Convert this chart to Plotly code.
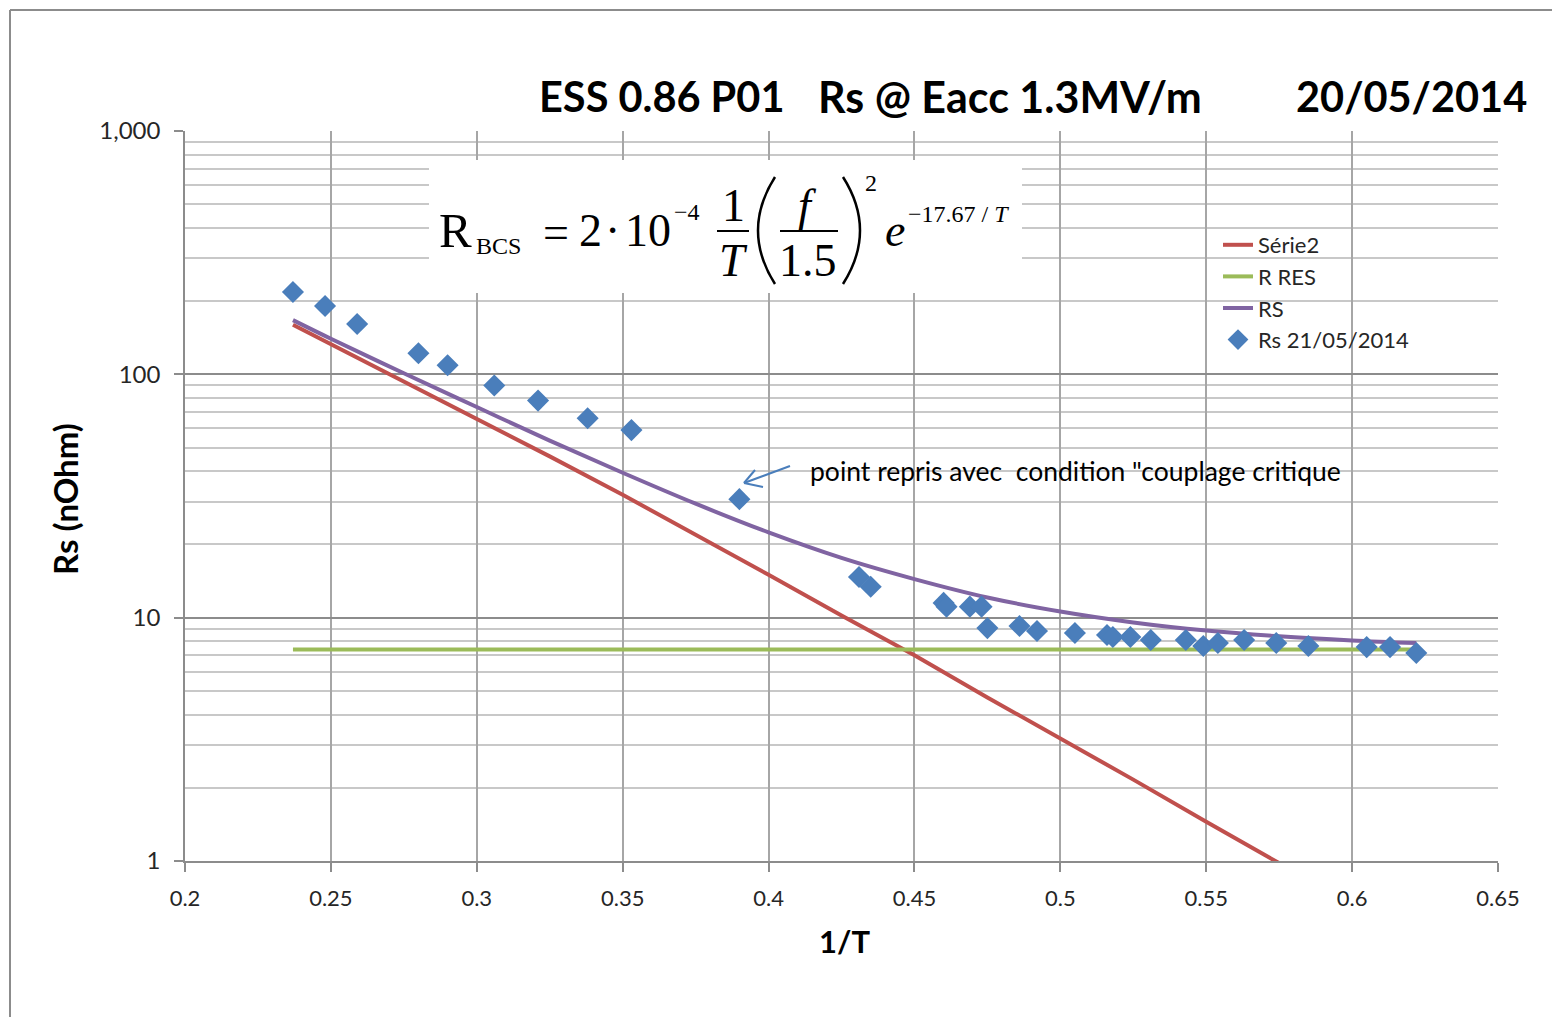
import plotly.graph_objects as go

# ---------------- data ----------------
meas_x = [0.237, 0.248, 0.259, 0.280, 0.290, 0.306, 0.321, 0.338, 0.353,
          0.390, 0.431, 0.435,
          0.460, 0.461, 0.469, 0.473, 0.475,
          0.486, 0.492, 0.505, 0.516, 0.518, 0.524, 0.531,
          0.543, 0.549, 0.554, 0.563, 0.574, 0.585,
          0.605, 0.613, 0.622]
meas_y = [218, 191, 161, 122, 109, 90, 78, 66, 59,
          30.7, 14.7, 13.4,
          11.5, 11.1, 11.1, 11.1, 9.06,
          9.24, 8.81, 8.65, 8.49, 8.33, 8.33, 8.1,
          8.1, 7.65, 7.87, 8.1, 7.87, 7.65,
          7.57, 7.57, 7.16]

serie2_x = [0.237, 0.25, 0.275, 0.3, 0.325, 0.35, 0.375, 0.4, 0.425, 0.45,
            0.475, 0.5, 0.525, 0.55, 0.575]
serie2_y = [160, 133, 94, 66, 46, 32, 22, 15, 10.2, 7.0,
            4.7, 3.2, 2.16, 1.45, 0.98]

rres_x = [0.237, 0.622]
rres_y = [7.4, 7.4]

rs_x = [0.237, 0.25, 0.275, 0.3, 0.325, 0.35, 0.375, 0.4, 0.425, 0.45,
        0.475, 0.5, 0.525, 0.55, 0.575, 0.6, 0.622]
rs_y = [167, 140, 101, 73.4, 53.4, 39.4, 29.4, 22.4, 17.6, 14.4,
        12.1, 10.6, 9.56, 8.85, 8.38, 8.06, 7.86]

x_ticks = [0.2, 0.25, 0.3, 0.35, 0.4, 0.45, 0.5, 0.55, 0.6, 0.65]
x_tick_text = ["0.2", "0.25", "0.3", "0.35", "0.4", "0.45", "0.5", "0.55", "0.6", "0.65"]
y_ticks = [1, 10, 100, 1000]
y_tick_text = ["1", "10", "100", "1,000"]
y_minor = [m * 10 ** k for k in range(3) for m in range(2, 10)]

# ---------------- layout helpers (reference pixel -> paper) ----------------
OFF = 8  # page body margin of the browser
W, H = 1560 - OFF, 1017 - OFF
L, R, T, B = 185, 1498, 131, 861   # plot area in reference pixels


def px(x):
    return (x - L) / (R - L)


def py(y):
    return (B - y) / (B - T)


fig = go.Figure()

fig.add_trace(go.Scatter(x=serie2_x, y=serie2_y, mode="lines", name="Série2",
                         line=dict(color="#c0504d", width=4)))
fig.add_trace(go.Scatter(x=rres_x, y=rres_y, mode="lines", name="R RES",
                         line=dict(color="#9bbb59", width=4)))
fig.add_trace(go.Scatter(x=rs_x, y=rs_y, mode="lines", name="RS",
                         line=dict(color="#8064a2", width=4, shape="spline")))
fig.add_trace(go.Scatter(x=meas_x, y=meas_y, mode="markers", name="Rs 21/05/2014",
                         marker=dict(symbol="diamond", size=17, color="#4a7ebb",
                                     line=dict(width=0))))

shapes = []
# outer chart frame (top & left visible)
shapes.append(dict(type="line", xref="paper", yref="paper",
                   x0=px(10), y0=py(10), x1=px(1575), y1=py(10),
                   line=dict(color="#8c8c8c", width=2)))
shapes.append(dict(type="line", xref="paper", yref="paper",
                   x0=px(10), y0=py(10), x1=px(10), y1=py(1030),
                   line=dict(color="#8c8c8c", width=2)))
# white formula box
shapes.append(dict(type="rect", xref="paper", yref="paper", layer="above",
                   x0=px(429), y0=py(293), x1=px(1022), y1=py(160),
                   fillcolor="white", line=dict(width=0)))
# fraction bars
shapes.append(dict(type="line", xref="paper", yref="paper", layer="above",
                   x0=px(717), y0=py(231), x1=px(749), y1=py(231),
                   line=dict(color="black", width=2)))
shapes.append(dict(type="line", xref="paper", yref="paper", layer="above",
                   x0=px(780), y0=py(231), x1=px(838), y1=py(231),
                   line=dict(color="black", width=2)))


def paren(xe, xm, y0, y1):
    ym = (y0 + y1) / 2
    return "M {:.5f},{:.5f} Q {:.5f},{:.5f} {:.5f},{:.5f}".format(
        px(xe), py(y0), px(xm), py(ym), px(xe), py(y1))


shapes.append(dict(type="path", xref="paper", yref="paper", layer="above",
                   path=paren(775, 741, 177, 284), line=dict(color="black", width=2.5)))
shapes.append(dict(type="path", xref="paper", yref="paper", layer="above",
                   path=paren(843, 877, 177, 284), line=dict(color="black", width=2.5)))

# open arrow pointing at the re-measured point
arrow_col = "#4a7ebb"
for (x0, y0, x1, y1) in [(790, 466, 744, 483), (744, 483, 763, 487), (744, 483, 755, 470)]:
    shapes.append(dict(type="line", xref="paper", yref="paper", layer="above",
                       x0=px(x0), y0=py(y0), x1=px(x1), y1=py(y1),
                       line=dict(color=arrow_col, width=2)))

ann = []
title_font = dict(family="Lato", size=41.5, color="black")
ann.append(dict(text="<b>ESS 0.86 P01</b>", x=px(537), y=py(96), xanchor="left", yanchor="middle",
                font=title_font))
ann.append(dict(text="<b>Rs @ Eacc 1.3MV/m</b>", x=px(816), y=py(96), xanchor="left", yanchor="middle",
                font=dict(family="Lato", size=43, color="black")))
ann.append(dict(text="<b>20/05/2014</b>", x=px(1529), y=py(96), xanchor="right", yanchor="middle",
                font=title_font))
# axis titles
ann.append(dict(text="<b>Rs (nOhm)</b>", x=px(65), y=py(499), textangle=-90,
                xanchor="center", yanchor="middle",
                font=dict(family="Lato", size=33, color="black")))
ann.append(dict(text="<b>1/T</b>", x=px(844), y=py(941), xanchor="center", yanchor="middle",
                font=dict(family="Lato", size=31, color="black")))
# note
ann.append(dict(text='point repris avec  condition "couplage critique', x=px(808), y=py(471),
                xanchor="left", yanchor="middle",
                font=dict(family="Lato", size=26.5, color="black")))

# formula pieces
serif = "Liberation Serif"
big = 46
small = 24


def ftext(t, x, y, size, anchor="center"):
    ann.append(dict(text=t, x=px(x), y=py(y), xanchor=anchor, yanchor="middle",
                    font=dict(family=serif, size=size, color="black")))


ftext("R", 437, 230, big + 3, "left")
ftext("BCS", 474, 246, small, "left")
ftext("=", 556, 232, big)
ftext("2", 590, 230, big)
ftext("·", 612, 230, big)
ftext("10", 648, 230, big)
ftext("−4", 672, 212, small, "left")
ftext("1", 733, 205, big)
ftext("<i>T</i>", 733, 260, big)
ftext("<i>f</i>", 807, 205, big)
ftext("1.5", 808, 260, big)
ftext("2", 871, 183, small)
ftext("<i>e</i>", 895, 230, big)
ftext("−17.67 / <i>T</i>", 906, 214, small, "left")

for a in ann:
    a.setdefault("xref", "paper")
    a.setdefault("yref", "paper")
    a.setdefault("showarrow", False)

x_font = dict(family="Lato", size=22, color="#262626")
y_font = dict(family="Lato", size=24, color="#262626")

fig.update_layout(
    width=W, height=H,
    margin=dict(l=L - OFF, r=1560 - R, t=T - OFF, b=1017 - B, autoexpand=False),
    paper_bgcolor="white", plot_bgcolor="white",
    showlegend=True,
    legend=dict(x=px(1218), y=py(224), xanchor="left", yanchor="top",
                bgcolor="rgba(0,0,0,0)", font=dict(family="Lato", size=22, color="#262626"),
                itemwidth=30),
    xaxis=dict(range=[0.2, 0.65], tickvals=x_ticks, ticktext=x_tick_text,
               showgrid=True, gridcolor="#a6a6a6", gridwidth=1.5,
               ticks="outside", ticklen=9, tickcolor="#8c8c8c", tickwidth=1.5,
               showline=True, linecolor="#8c8c8c", linewidth=1.5,
               zeroline=False, tickfont=x_font, ticklabelstandoff=8),
    yaxis=dict(type="log", range=[0, 3], tickvals=y_ticks, ticktext=y_tick_text,
               showgrid=True, gridcolor="#8c8c8c", gridwidth=1.5,
               ticks="outside", ticklen=9, tickcolor="#8c8c8c", tickwidth=1.5,
               showline=True, linecolor="#8c8c8c", linewidth=1.5,
               zeroline=False, tickfont=y_font, ticklabelstandoff=9,
               minor=dict(tickvals=y_minor, showgrid=True, gridcolor="#c8c8c8",
                          gridwidth=1.5, ticks="")),
    shapes=shapes,
    annotations=ann,
)

fig.write_html("out.html")
